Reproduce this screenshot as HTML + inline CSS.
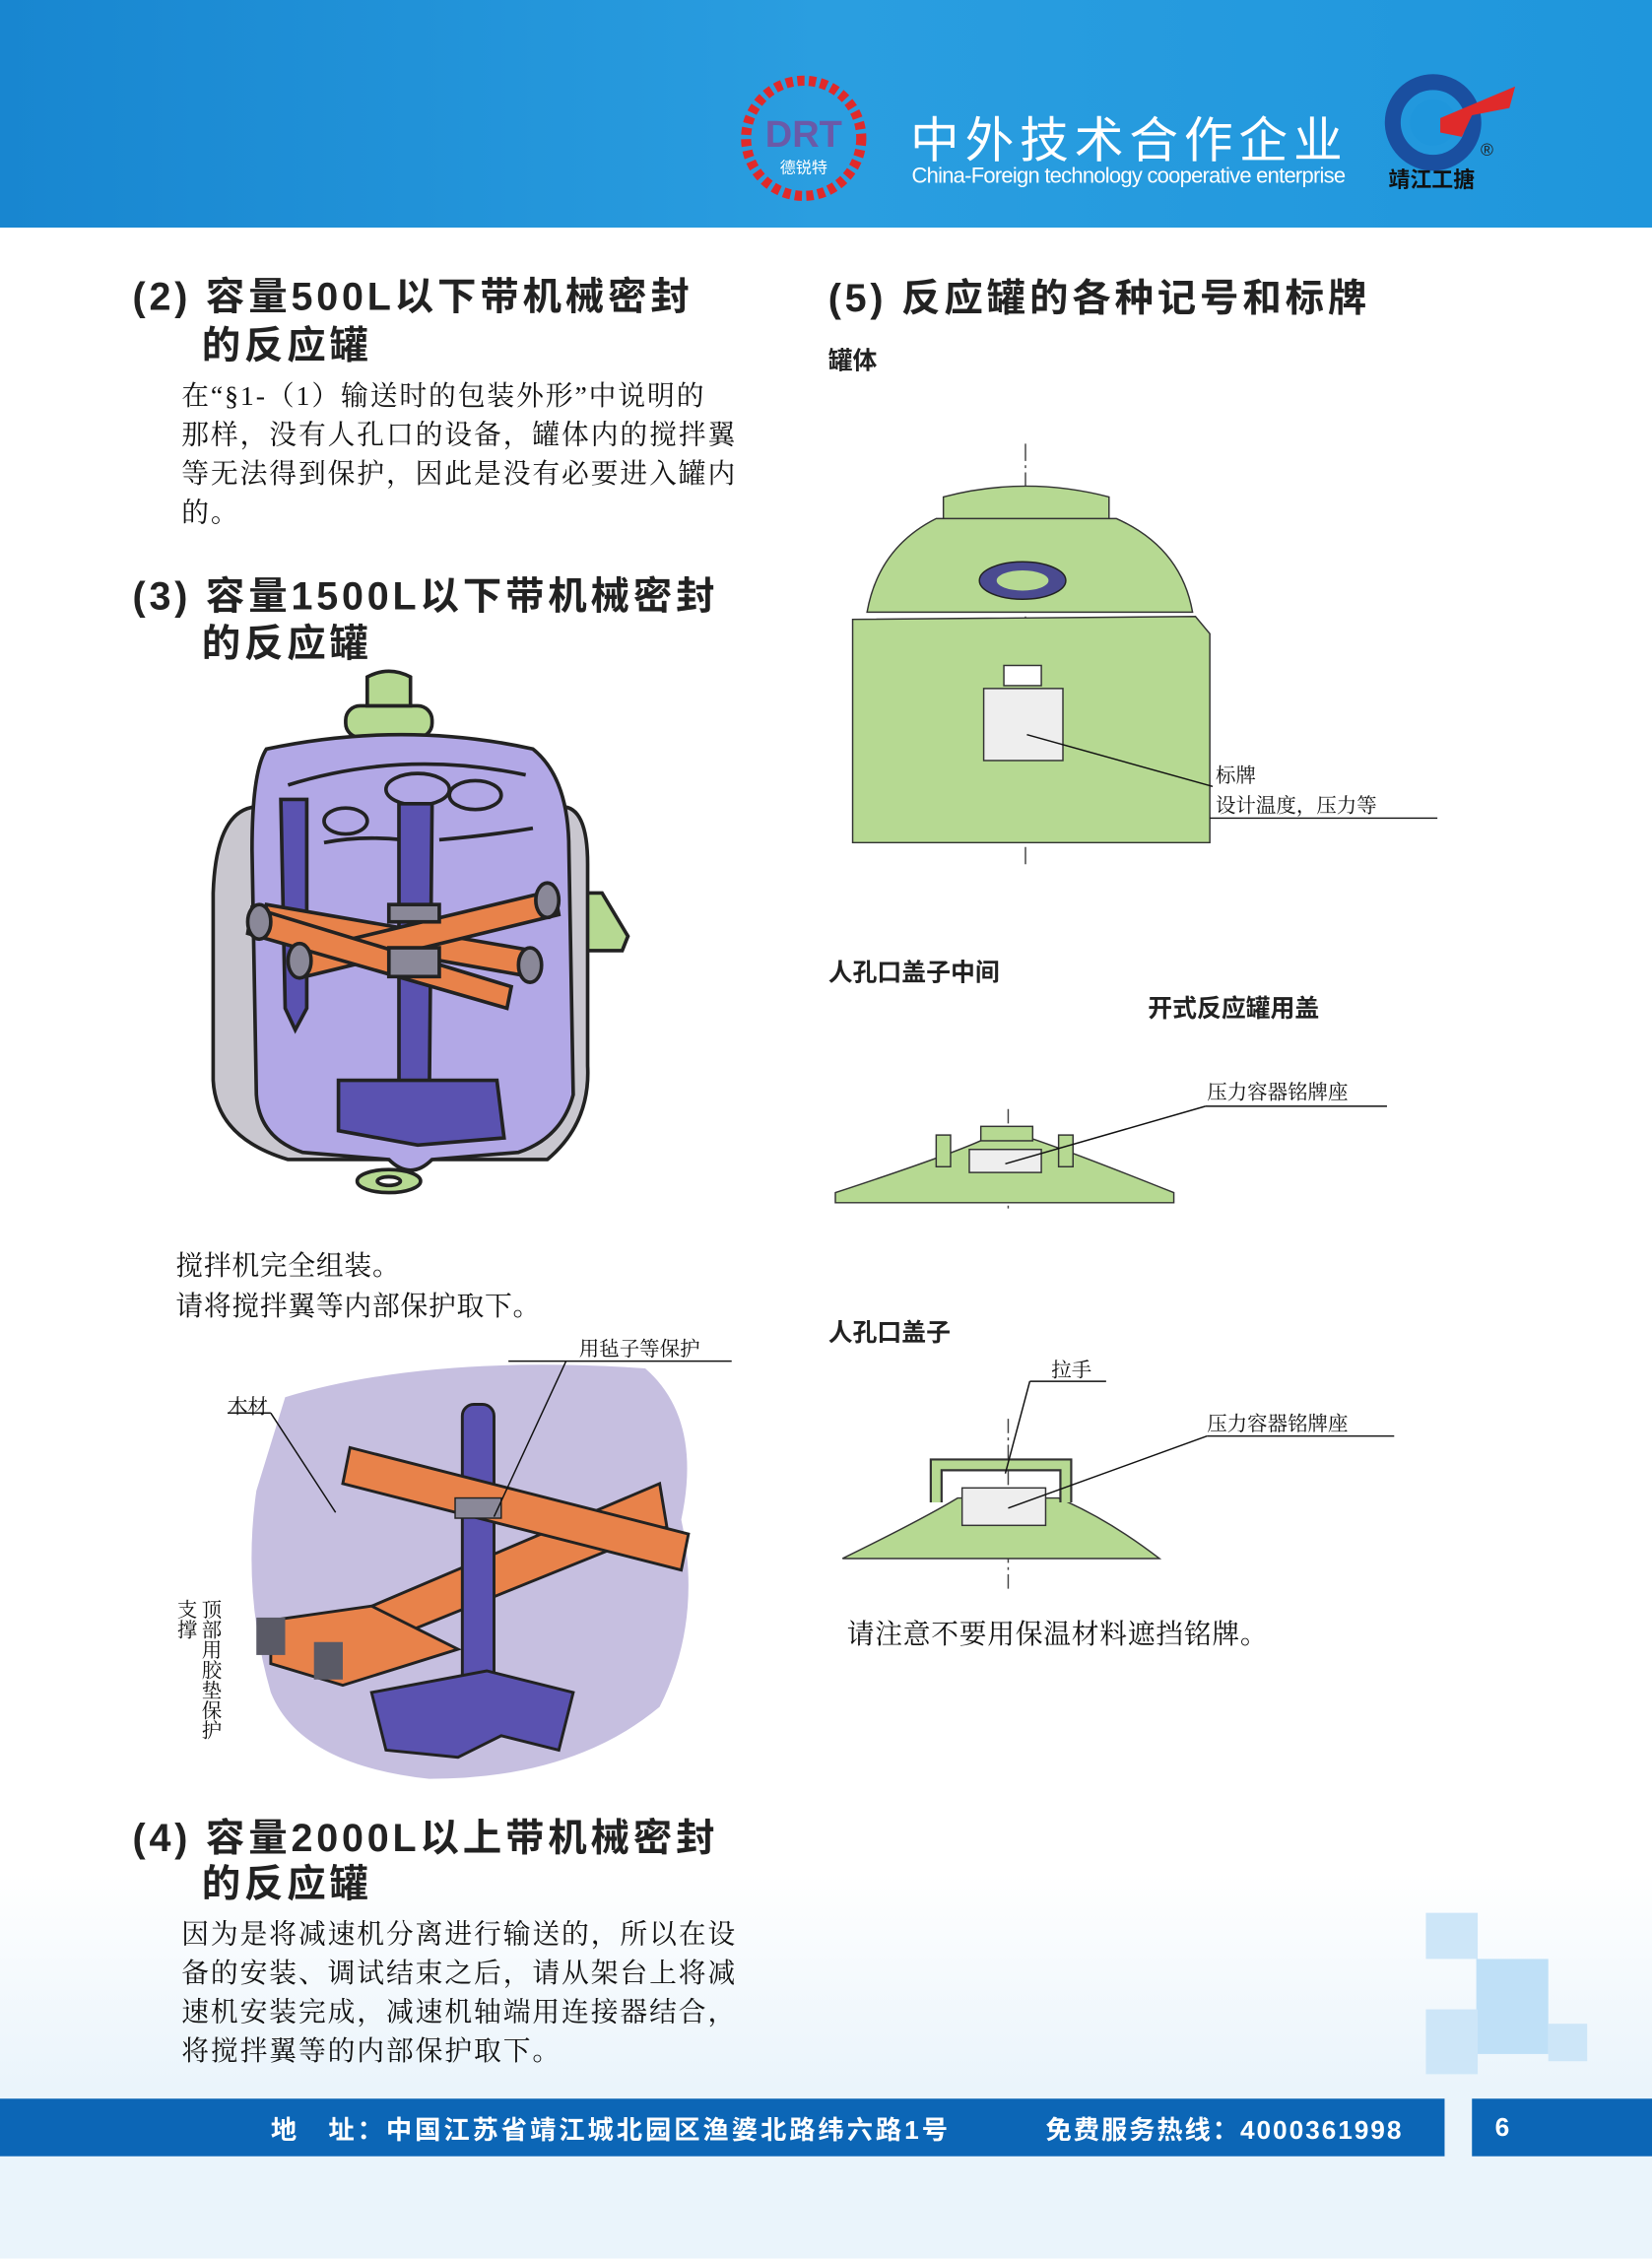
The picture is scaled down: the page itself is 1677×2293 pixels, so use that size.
<!DOCTYPE html>
<html><head><meta charset="utf-8"><style>
html,body{margin:0;padding:0;}
body{width:1677px;height:2292px;overflow:hidden;background:#fff;}
#w{position:absolute;left:0;top:0;width:1147px;height:1568px;transform:scale(1.46207);transform-origin:0 0;font-family:"Liberation Sans","Noto Sans CJK SC",sans-serif;background:linear-gradient(#fff 0,#fff 1300px,#eaf4fb 1450px,#eaf4fb 1568px);}
.a{position:absolute;white-space:nowrap;}
.h{font-weight:bold;font-size:27px;color:#222;letter-spacing:2.6px;}
.p{font-family:"Liberation Serif","Noto Serif CJK SC",serif;font-size:19px;letter-spacing:1.3px;color:#111;line-height:27px;}
.s{font-weight:bold;font-size:17px;color:#222;}
.l{font-family:"Liberation Serif","Noto Serif CJK SC",serif;font-size:14px;color:#111;}
</style></head><body><div id="w">
<div class="a" style="left:0;top:0;width:1147px;height:158px;background:linear-gradient(90deg,#1886d0,#2a9ee0 50%,#1f96dc);"></div>
<svg class="a" style="left:510px;top:50px" width="100" height="92"><circle cx="48" cy="46" r="40" fill="none" stroke="#e02a2a" stroke-width="7" stroke-dasharray="5 3"/><text x="48" y="52" font-size="26" font-weight="bold" fill="#6a5aa8" text-anchor="middle" font-family="Liberation Sans">DRT</text><text x="48" y="70" font-size="11" fill="#fff" text-anchor="middle" font-family="Noto Sans CJK SC">德锐特</text></svg>
<div class="a" style="left:632px;top:70px;font-size:34px;color:#fff;letter-spacing:4px">中外技术合作企业</div>
<div class="a" style="left:633px;top:114px;font-size:15px;color:#fff;letter-spacing:-0.5px">China-Foreign technology cooperative enterprise</div>
<svg class="a" style="left:960px;top:50px" width="100" height="95"><circle cx="35" cy="35" r="28" fill="none" stroke="#1a4fa0" stroke-width="11"/><circle cx="35" cy="35" r="16" fill="#1f96dc"/><path d="M40 32 L92 10 L88 25 L62 30 L55 45 L40 42Z" fill="#e02a2a"/><text x="68" y="58" font-size="12" fill="#222">®</text><text x="4" y="80" font-size="15" font-weight="bold" fill="#111" font-family="Noto Sans CJK SC">靖江工搪</text></svg>

<div class="a h" style="left:92px;top:184px">(2) 容量500L以下带机械密封</div>
<div class="a h" style="left:140px;top:218px">的反应罐</div>
<div class="a p" style="left:126px;top:262px">在“§1-（1）输送时的包装外形”中说明的<br>那样，没有人孔口的设备，罐体内的搅拌翼<br>等无法得到保护，因此是没有必要进入罐内<br>的。</div>
<div class="a h" style="left:92px;top:392px">(3) 容量1500L以下带机械密封</div>
<div class="a h" style="left:140px;top:425px">的反应罐</div>

<svg class="a" style="left:140px;top:460px" width="300" height="375" viewBox="0 0 300 375" stroke="#222" stroke-width="2.5">
<path d="M250 160 L278 160 L296 190 L292 200 L250 200Z" fill="#b6d992"/>
<path d="M40 100 Q10 100 8 160 L8 290 Q10 330 60 345 L240 345 Q270 320 268 280 L268 140 Q268 100 250 100Z" fill="#c9c7cf"/>
<rect x="100" y="30" width="60" height="22" rx="10" fill="#b6d992"/>
<path d="M112 52 L112 72 L148 72 L148 52Z" fill="#b6d992"/>
<path d="M115 10 Q130 2 145 10 L145 30 L115 30Z" fill="#b6d992"/>
<path d="M45 60 Q140 40 230 60 Q255 80 255 130 L258 300 Q250 330 220 340 L160 345 Q145 360 130 345 L70 340 Q40 330 38 300 L35 130 Q35 75 45 60Z" fill="#b2a8e6"/>
<path d="M60 85 Q140 60 225 78" fill="none"/><path d="M85 125 Q110 120 140 123" fill="none"/><path d="M165 123 Q200 120 230 115" fill="none"/>
<ellipse cx="150" cy="88" rx="22" ry="11" fill="#b2a8e6"/><ellipse cx="100" cy="110" rx="15" ry="9" fill="#b2a8e6"/><ellipse cx="190" cy="92" rx="18" ry="10" fill="#b2a8e6"/>
<path d="M55 95 L73 95 L73 240 L65 255 L58 240Z" fill="#5a52b0"/>
<path d="M137 98 L160 98 L158 310 L137 310Z" fill="#5a52b0"/>
<path d="M95 290 L205 290 L210 330 L150 335 L95 325Z" fill="#5a52b0"/>
<path d="M45 168 L230 200 L228 218 L42 185Z" fill="#e8824a"/>
<path d="M70 200 L245 158 L248 175 L72 218Z" fill="#e8824a"/>
<path d="M35 170 L215 225 L212 240 L32 188Z" fill="#e8824a"/>
<rect x="130" y="168" width="35" height="12" fill="#8a8898"/><rect x="130" y="198" width="35" height="20" fill="#8a8898"/>
<ellipse cx="40" cy="180" rx="8" ry="12" fill="#8a8898"/><ellipse cx="68" cy="207" rx="8" ry="12" fill="#8a8898"/><ellipse cx="228" cy="210" rx="8" ry="12" fill="#8a8898"/><ellipse cx="240" cy="165" rx="8" ry="12" fill="#8a8898"/>
<ellipse cx="130" cy="360" rx="22" ry="8" fill="#b6d992"/><ellipse cx="130" cy="360" rx="8" ry="3" fill="#fff"/>
</svg>

<div class="a p" style="left:122px;top:866px;font-size:19px;line-height:28px;letter-spacing:0.5px">搅拌机完全组装。<br>请将搅拌翼等内部保护取下。</div>
<svg class="a" style="left:118px;top:925px" width="400" height="320" viewBox="0 0 400 320">
<path d="M80 45 Q180 15 330 25 Q370 60 355 130 Q370 200 340 260 Q280 310 180 310 Q90 300 70 250 Q50 180 60 110Z" fill="#c6bfe0"/>
<path d="M340 105 L345 135 L110 230 L105 205Z" fill="#e8824a" stroke="#222" stroke-width="2"/>
<path d="M70 200 L140 190 L200 220 L120 245 L70 230Z" fill="#e8824a" stroke="#222" stroke-width="2"/>
<rect x="203" y="50" width="22" height="200" rx="8" fill="#5a52b0" stroke="#222" stroke-width="2"/>
<path d="M125 80 L120 105 L355 165 L360 140Z" fill="#e8824a" stroke="#222" stroke-width="2"/>
<path d="M140 250 L220 235 L280 250 L270 290 L230 280 L200 295 L150 290Z" fill="#5a52b0" stroke="#222" stroke-width="2"/>
<rect x="60" y="198" width="20" height="26" fill="#5a5a66"/><rect x="100" y="215" width="20" height="26" fill="#5a5a66"/>
<rect x="198" y="115" width="32" height="14" fill="#8a8898" stroke="#222"/>
<line x1="70" y1="56" x2="115" y2="125" stroke="#111"/><line x1="40" y1="56" x2="70" y2="56" stroke="#111"/>
<line x1="235" y1="20" x2="390" y2="20" stroke="#111"/><line x1="275" y1="20" x2="225" y2="128" stroke="#111"/>
</svg>
<div class="a l" style="left:158px;top:966px">木材</div>
<div class="a l" style="left:402px;top:926px">用毡子等保护</div>
<div class="a l" style="left:120px;top:1110px;writing-mode:vertical-rl;line-height:17px">顶部用胶垫保护<br>支撑</div>

<div class="a h" style="left:92px;top:1254px">(4) 容量2000L以上带机械密封</div>
<div class="a h" style="left:140px;top:1286px">的反应罐</div>
<div class="a p" style="left:126px;top:1330px">因为是将减速机分离进行输送的，所以在设<br>备的安装、调试结束之后，请从架台上将减<br>速机安装完成，减速机轴端用连接器结合，<br>将搅拌翼等的内部保护取下。</div>

<div class="a h" style="left:575px;top:185px;font-size:27px">(5) 反应罐的各种记号和标牌</div>
<div class="a s" style="left:575px;top:236px">罐体</div>
<svg class="a" style="left:580px;top:300px" width="430" height="310" viewBox="0 0 430 310">
<line x1="132" y1="8" x2="132" y2="300" stroke="#444" stroke-dasharray="12 3 2 3"/>
<path d="M75 45 Q132 30 190 45 L190 65 L75 65Z" fill="#b6d992" stroke="#333"/>
<path d="M22 125 Q30 80 70 60 L195 60 Q240 80 248 125Z" fill="#b6d992" stroke="#333"/>
<path d="M12 130 L250 128 L260 140 L260 285 L12 285Z" fill="#b6d992" stroke="#333"/>
<ellipse cx="130" cy="103" rx="30" ry="13" fill="#4a4a90" stroke="#222"/><ellipse cx="130" cy="103" rx="18" ry="7" fill="#b6d992"/>
<rect x="117" y="162" width="26" height="14" fill="#fff" stroke="#333"/>
<rect x="103" y="178" width="55" height="50" fill="#eee" stroke="#333"/>
<line x1="133" y1="210" x2="262" y2="246" stroke="#111"/><line x1="260" y1="268" x2="418" y2="268" stroke="#111"/>
</svg>
<div class="a l" style="left:844px;top:528px">标牌</div>
<div class="a l" style="left:844px;top:549px">设计温度，压力等</div>

<div class="a s" style="left:575px;top:661px">人孔口盖子中间</div>
<div class="a s" style="left:797px;top:686px">开式反应罐用盖</div>
<svg class="a" style="left:575px;top:760px" width="400" height="90" viewBox="0 0 400 90">
<line x1="125" y1="10" x2="125" y2="80" stroke="#444" stroke-dasharray="10 3 2 3"/>
<path d="M5 68 Q90 40 110 30 L140 30 Q170 40 240 68 L240 75 L5 75Z" fill="#b6d992" stroke="#333"/>
<rect x="75" y="28" width="10" height="22" fill="#b6d992" stroke="#333"/><rect x="160" y="28" width="10" height="22" fill="#b6d992" stroke="#333"/>
<rect x="106" y="22" width="36" height="10" fill="#b6d992" stroke="#333"/>
<rect x="98" y="38" width="50" height="16" fill="#eee" stroke="#333"/>
<line x1="123" y1="48" x2="262" y2="8" stroke="#111"/><line x1="262" y1="8" x2="388" y2="8" stroke="#111"/>
</svg>
<div class="a l" style="left:838px;top:748px">压力容器铭牌座</div>

<div class="a s" style="left:575px;top:911px">人孔口盖子</div>
<div class="a l" style="left:730px;top:941px">拉手</div>
<div class="a l" style="left:838px;top:978px">压力容器铭牌座</div>
<svg class="a" style="left:580px;top:955px" width="400" height="150" viewBox="0 0 400 150">
<line x1="120" y1="30" x2="120" y2="150" stroke="#444" stroke-dasharray="10 3 2 3"/>
<path d="M5 127 Q60 100 85 85 L155 85 Q190 100 225 127Z" fill="#b6d992" stroke="#333"/>
<path d="M70 88 L70 62 L160 62 L160 88" fill="none" stroke="#333" stroke-width="9"/><path d="M70 88 L70 62 L160 62 L160 88" fill="none" stroke="#b6d992" stroke-width="6"/>
<rect x="88" y="78" width="58" height="26" fill="#eee" stroke="#333"/>
<line x1="120" y1="92" x2="258" y2="42" stroke="#111"/><line x1="258" y1="42" x2="388" y2="42" stroke="#111"/>
<line x1="135" y1="4" x2="188" y2="4" stroke="#111"/><line x1="135" y1="4" x2="118" y2="68" stroke="#111"/>
</svg>
<div class="a p" style="left:588px;top:1122px;letter-spacing:0.5px">请注意不要用保温材料遮挡铭牌。</div>

<div class="a" style="left:990px;top:1328px;width:36px;height:32px;background:#cde6f8"></div>
<div class="a" style="left:1025px;top:1360px;width:50px;height:66px;background:#bfe0f7"></div>
<div class="a" style="left:990px;top:1395px;width:36px;height:45px;background:#cde6f8"></div>
<div class="a" style="left:1075px;top:1405px;width:27px;height:26px;background:#cde6f8"></div>
<div class="a" style="left:0;top:1457px;width:1003px;height:40px;background:#0c66b6"></div>
<div class="a" style="left:1022px;top:1457px;width:125px;height:40px;background:#0c66b6"></div>
<div class="a" style="left:188px;top:1465px;font-size:18px;font-weight:bold;color:#fff;letter-spacing:2px">地　址：中国江苏省靖江城北园区渔婆北路纬六路1号</div>
<div class="a" style="left:726px;top:1465px;font-size:18px;font-weight:bold;color:#fff;letter-spacing:1.3px">免费服务热线：4000361998</div>
<div class="a" style="left:1038px;top:1467px;font-size:18px;font-weight:bold;color:#fff">6</div>
</div></body></html>
